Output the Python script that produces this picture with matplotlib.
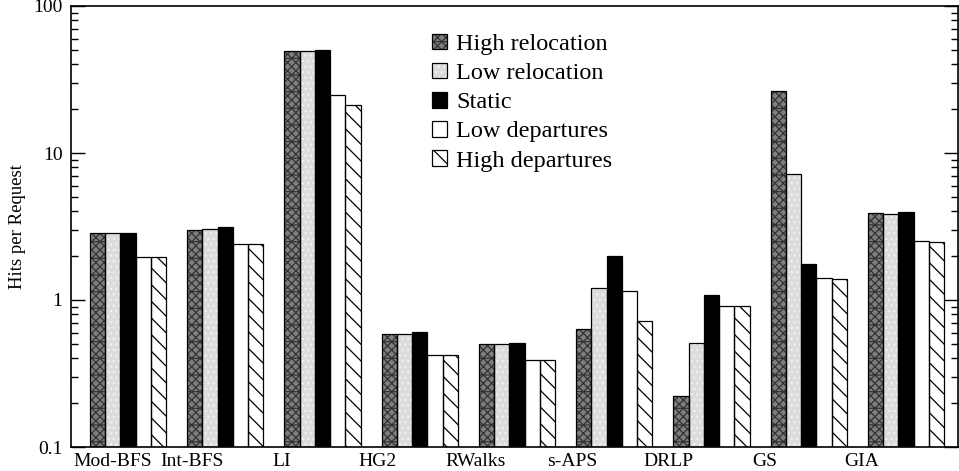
import numpy as np
import matplotlib
matplotlib.use("Agg")
import matplotlib.pyplot as plt
from matplotlib.patches import Patch
from matplotlib.legend_handler import HandlerTuple
import matplotlib.ticker as mticker

categories = ['Mod-BFS', 'Int-BFS', 'LI', 'HG2', 'RWalks', 's-APS', 'DRLP', 'GS', 'GIA']
series_names = ['High relocation', 'Low relocation', 'Static', 'Low departures', 'High departures']
high_reloc = [2.84, 2.99, 49.5, 0.578, 0.492, 0.625, 0.211, 26.4, 3.87]
low_reloc = [2.84, 3.04, 49.5, 0.578, 0.489, 1.19, 0.502, 7.16, 3.85]
static = [2.84, 3.15, 50.0, 0.595, 0.502, 1.99, 1.07, 1.76, 3.95]
low_dep = [1.94, 2.39, 24.8, 0.411, 0.379, 1.15, 0.90, 1.40, 2.52]
high_dep = [1.94, 2.39, 21.2, 0.411, 0.379, 0.71, 0.90, 1.375, 2.47]
series = [high_reloc, low_reloc, static, low_dep, high_dep]

# label positions relative to group index (layout)
label_pos = [-0.154, 0.658, 1.584, 2.571, 3.578, 4.566, 5.553, 6.55, 7.547]

styles = [
    dict(face='#7e7e7e', hatch='xxxx-', hcol='#333333'),
    dict(face='#dcdcdc', hatch='...', hcol='#f2f2f2'),
    dict(face='black', hatch=None, hcol='black'),
    dict(face='white', hatch=None, hcol='black'),
    dict(face='white', hatch='\\\\', hcol='black'),
]

plt.rcParams['font.family'] = ['Liberation Serif', 'DejaVu Serif']
plt.rcParams['hatch.linewidth'] = 0.9

fig = plt.figure(figsize=(9.59, 4.71), dpi=100)
ax = fig.add_axes([70.7 / 959, 24 / 471, (958 - 70.7) / 959, (447 - 6) / 471])

x = np.arange(len(categories))
w = 0.157
handles = []
for k, (vals, st) in enumerate(zip(series, styles)):
    pos = x + (k - 2) * w
    ax.bar(pos, vals, width=w, bottom=0.01, color=st['face'], hatch=st['hatch'],
           edgecolor=st['hcol'], linewidth=0, zorder=2)
    ax.bar(pos, vals, width=w, bottom=0.01, fill=False, edgecolor='black',
           linewidth=0.9, zorder=3)
    h1 = Patch(facecolor=st['face'], hatch=st['hatch'], edgecolor=st['hcol'], linewidth=0)
    h2 = Patch(fill=False, edgecolor='black', linewidth=0.9)
    handles.append((h1, h2))

ax.set_yscale('log')
ax.set_ylim(0.1, 100)
ax.set_xlim(-0.589, 8.535)
ax.yaxis.set_major_formatter(mticker.FuncFormatter(lambda v, p: f'{v:g}'))
ax.yaxis.set_minor_formatter(mticker.NullFormatter())
ax.tick_params(axis='y', which='major', direction='in', length=10, width=1,
               left=True, right=True, labelsize=14, pad=6)
ax.tick_params(axis='y', which='minor', direction='in', length=5, width=1,
               left=True, right=True)
ax.set_xticks(label_pos)
ax.set_xticklabels(categories, fontsize=14)
ax.tick_params(axis='x', length=0, pad=4)
for s in ax.spines.values():
    s.set_linewidth(1.2)
ax.set_ylabel('Hits per Request', fontsize=13.5, labelpad=5)

leg = ax.legend(handles, series_names, handler_map={tuple: HandlerTuple(ndivide=1, pad=0)},
                loc='upper left', bbox_to_anchor=(432 / 959, 1 - 34 / 471),
                bbox_transform=fig.transFigure, frameon=False, fontsize=17.5,
                handlelength=0.6, handleheight=0.6, handletextpad=0.4,
                labelspacing=0.32, borderpad=0, borderaxespad=0)

fig.savefig('out.png', dpi=100)
